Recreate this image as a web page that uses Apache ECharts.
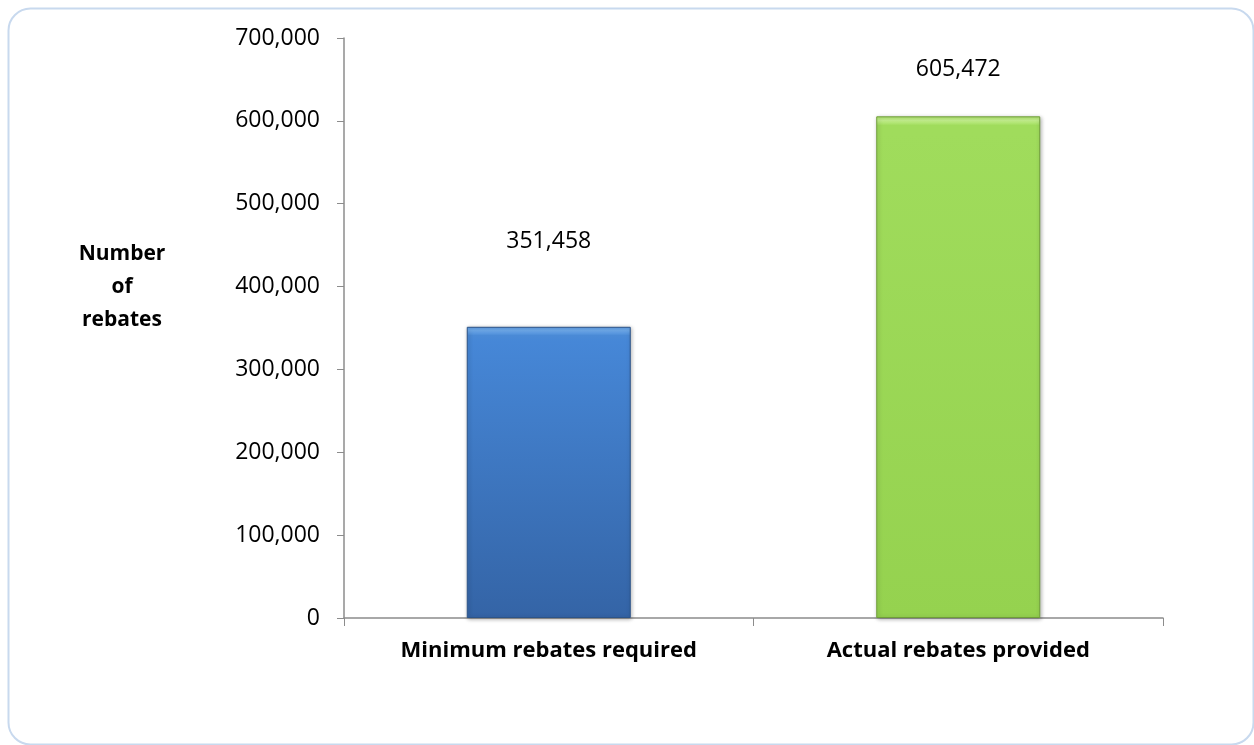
<!DOCTYPE html>
<html><head><meta charset="utf-8">
<script src="https://cdn.jsdelivr.net/npm/echarts@6/dist/echarts.min.js"></script>
<style>html,body{margin:0;padding:0;background:#fff}#c{width:1254px;height:745px}</style>
</head><body><div id="c"></div>
<script>
const categories = ['Minimum rebates required', 'Actual rebates provided'];
const values = [351458, 605472];
const yTicks = [0, 100000, 200000, 300000, 400000, 500000, 600000, 700000];
const yTitle = ['Number', 'of', 'rebates'];

const chart = echarts.init(document.getElementById('c'));
const font = 'Open Sans, Noto Sans, sans-serif';
const grads = [
  new echarts.graphic.LinearGradient(0,0,0,1,[
    {offset:0,color:'#5d9be3'},{offset:0.012,color:'#6eaaeb'},{offset:0.03,color:'#4a8ad6'},
    {offset:0.05,color:'#4687d7'},{offset:1,color:'#3464a6'}]),
  new echarts.graphic.LinearGradient(0,0,0,1,[
    {offset:0,color:'#aee46c'},{offset:0.008,color:'#c4f08e'},{offset:0.018,color:'#a0dc5c'},
    {offset:0.03,color:'#a0dc5c'},{offset:1,color:'#95d24f'}])
];
const borders = ['#2c5489', '#6f9e38'];
const labelDist = [74, 35];
chart.setOption({
  animation: false,
  graphic: [{
    type: 'rect', left: 6, top: 6,
    shape: { width: 1245, height: 736, r: 22 },
    style: { fill: 'none', stroke: '#c8d9ee', lineWidth: 2 }
  }, {
    type: 'text', x: 122, y: 287,
    style: { text: yTitle.join('\n'), font: 'bold 21px ' + font, fill: '#000',
      align: 'center', verticalAlign: 'middle', lineHeight: 33 }
  }],
  grid: { left: 344, right: 91, top: 38, bottom: 127 },
  xAxis: {
    type: 'category', data: categories,
    axisLine: { lineStyle: { color: '#8c8c8c', width: 1.5 } },
    axisTick: { show: true, length: 8, lineStyle: { color: '#8c8c8c' } },
    axisLabel: { color: '#000', fontFamily: font, fontWeight: 'bold', fontSize: 22, margin: 22 }
  },
  yAxis: {
    type: 'value', min: 0, max: 700000, interval: 100000,
    axisLine: { show: true, lineStyle: { color: '#8c8c8c', width: 1.5 } },
    axisTick: { show: true, length: 7, lineStyle: { color: '#8c8c8c' } },
    splitLine: { show: false },
    axisLabel: { color: '#000', fontFamily: font, fontSize: 23, margin: 24,
      formatter: v => yTicks.includes(v) ? v.toLocaleString('en-US') : '' }
  },
  series: [{
    type: 'bar', barWidth: 164,
    data: values.map((v, i) => ({
      value: v,
      itemStyle: { color: grads[i], borderColor: borders[i], borderWidth: 1,
        shadowColor: 'rgba(0,0,0,0.3)', shadowBlur: 4, shadowOffsetX: 1, shadowOffsetY: 1 },
      label: { show: true, position: 'top', distance: labelDist[i] }
    })),
    label: { color: '#000', fontFamily: font, fontSize: 23,
      formatter: p => p.value.toLocaleString('en-US') }
  }]
});
</script></body></html>
